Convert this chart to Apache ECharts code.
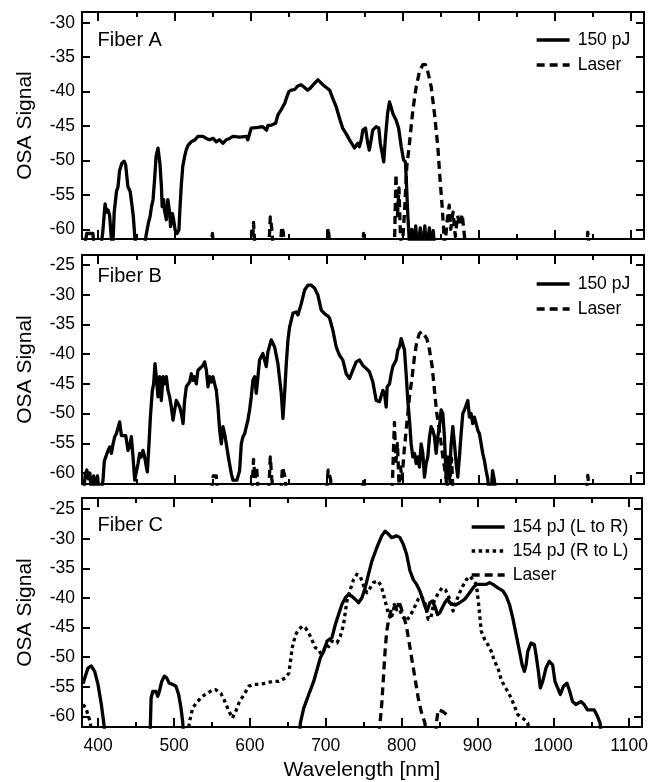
<!DOCTYPE html>
<html><head><meta charset="utf-8">
<script src="https://cdn.jsdelivr.net/npm/echarts@6/dist/echarts.min.js"></script>
<style>html,body{margin:0;padding:0;background:#fff}#c{width:651px;height:782px}</style>
</head><body><div id="c"></div>
<script>
// ---------- tick labels ----------
const xTicks = [400, 500, 600, 700, 800, 900, 1000, 1100];
const xMinorTicks = [450, 550, 650, 750, 850, 950, 1050];
const yTicksA = [-60, -55, -50, -45, -40, -35, -30];
const yTicksB = [-60, -55, -50, -45, -40, -35, -30, -25];
const yTicksC = [-60, -55, -50, -45, -40, -35, -30, -25];
const panelLabels = ['Fiber A', 'Fiber B', 'Fiber C'];
const xTitle = 'Wavelength [nm]';
const yTitle = 'OSA Signal';

// ---------- Fiber A ----------
const fiberA_150pJ = [[381,-63],[385,-60.6],[393,-60.6],[395,-63],[403,-63],[406,-60.4],[409,-56.3],[411,-57.5],[413,-57.2],[415,-58],[417,-61],[419,-63],[421,-57.5],[424,-54.5],[426,-53.8],[428,-51.5],[431,-50.4],[434,-50.1],[436,-50.6],[439,-53.8],[442,-54.5],[444,-56.2],[446,-58],[448,-61],[450,-63],[460,-63],[463,-60.8],[466,-59],[468,-58.2],[470,-56.7],[472,-55.7],[474,-52.8],[476,-49.4],[478.5,-48.2],[481,-50.4],[483,-53.8],[484,-56.7],[486,-55.7],[487,-57.2],[489.5,-58.6],[491.5,-55.7],[494,-57.7],[495,-59.6],[497.5,-57.7],[499,-58.6],[501,-60.1],[503.5,-60.6],[506,-60.1],[507,-57.7],[509,-53.8],[511,-50.9],[513.5,-49.4],[515.5,-48.5],[518,-47.8],[522,-47.3],[527,-47],[531,-46.5],[533,-46.3],[537.5,-46.5],[542,-46.8],[546,-47],[551,-46.8],[555,-47.3],[559,-47],[564,-47.5],[568,-47],[572.5,-46.8],[577,-46.5],[586,-46.6],[594.5,-46.5],[596.5,-47],[599,-46.8],[601,-45.3],[603,-45.1],[610,-45.2],[616,-45.1],[621,-45.6],[623,-44.9],[627,-44.9],[629,-45],[633,-44.6],[636,-43.4],[640,-42.7],[645,-41.7],[648,-40.7],[650.5,-40],[653.5,-39.8],[658,-39.7],[662,-39.2],[666.5,-39],[671,-39.4],[675,-39.8],[678.5,-39.5],[684,-38.8],[688.5,-38.3],[691,-38.1],[695,-39],[699.5,-39.4],[704,-39.8],[708,-41],[712.5,-42.2],[717,-43.9],[721,-45.3],[725.5,-46.1],[730,-47],[734.5,-47.8],[736.5,-48.2],[741,-47.5],[743,-48],[745.5,-47],[747.5,-45.6],[751,-45.3],[754,-47.5],[756,-48.5],[758.5,-47],[760.5,-45.6],[765,-45.1],[768.5,-45.3],[770.5,-47.5],[773,-49],[775,-50.2],[777,-47],[780,-43.2],[782.5,-41.5],[784.5,-42.2],[787,-43.2],[791,-44.1],[794.5,-45.3],[798,-48],[801,-49.9],[803.5,-50.2],[805,-53.8],[806.5,-57.7],[808,-60.6],[809,-63],[812,-60],[814,-63],[817,-59.5],[819,-63],[823,-59.8],[825,-63],[829,-59.5],[831,-63],[835,-59.8],[837,-63],[840,-60.2],[842,-63]];
const fiberA_laser = [[548,-63],[550,-60.6],[552,-63],null,[602,-63],[604,-59],[606,-63],null,[624,-63],[626,-58.2],[628,-60],[630,-63],null,[639,-63],[641,-59.6],[643,-60.4],[645,-63],null,[700,-63],[702,-59.8],[705,-63],null,[747,-63],[748.5,-60.6],[750,-63],null,[789,-63],[791,-52],[793,-58],[795,-54],[797,-61],[799,-63],[802,-58],[805.3,-50.9],[808.8,-47.5],[813.2,-42.7],[817.6,-39.3],[821.9,-37.1],[826.3,-36.1],[829.8,-36.1],[832.8,-37.1],[837.3,-39.3],[841.6,-43.2],[846,-48],[849,-52.8],[851.7,-56.7],[853.4,-59.6],[855,-63],[858,-59],[861,-56.5],[863,-60],[866,-57.5],[869,-61],[872,-58],[875,-59.5],[878,-57.8],[881,-61],[883,-63],null,[1041,-63],[1043,-60.4],[1045,-63]];

// ---------- Fiber B ----------
const fiberB_150pJ = [[381,-63],[383,-60.2],[385,-59.5],[387,-61],[389,-60],[391,-63],[394,-60.5],[396,-63],[399,-60.5],[401,-63],[404,-63],[406.3,-61.2],[408,-58],[409.8,-57.9],[412.9,-56.2],[415.1,-55.6],[417.3,-56.7],[419.5,-55.1],[421.7,-53.9],[423.8,-53.4],[426,-53.7],[428.2,-51.4],[430.4,-53.7],[432.6,-53.9],[436.1,-53.7],[439.2,-56.2],[441.3,-55.6],[443.5,-53.9],[445.7,-57.3],[447.9,-61.2],[450.1,-61.2],[452.3,-58.4],[454.5,-56.7],[456.6,-57.3],[458.8,-56.2],[461,-57.3],[463.2,-59],[464.5,-59.8],[466.7,-55.1],[468.5,-50.6],[471.1,-46.1],[472.8,-45],[474.6,-41.6],[476.3,-43.8],[478.5,-47.2],[480.7,-43.8],[482.9,-47.8],[485.1,-43.8],[487.3,-45],[489.5,-43.8],[491.6,-46.1],[493.8,-47.2],[496,-48.9],[498.2,-51.1],[500.4,-49.4],[502.6,-47.8],[504.8,-48.3],[507,-48.9],[509.2,-50],[511.4,-51.7],[513.5,-47.8],[515.7,-45.5],[520.1,-44.7],[522.3,-43.3],[524.5,-44.4],[526.6,-43.8],[528.8,-45],[531,-42.7],[533.2,-42.4],[537.6,-41.9],[539.8,-41.3],[542,-42.7],[544.2,-45.5],[546.3,-43.8],[548.5,-44.7],[550.7,-43.8],[552.9,-45],[555.1,-46.1],[557.3,-48.9],[559.5,-52.8],[561.7,-55.1],[563.8,-52.2],[566,-53.4],[568.2,-55.1],[571.7,-57.9],[574.8,-60.1],[576.9,-61.2],[582.2,-61.2],[585.7,-59.6],[587.9,-55.1],[590.1,-53.9],[592.3,-53.4],[594.5,-52.2],[596.6,-51.1],[598.8,-49.4],[601,-47.2],[603.2,-44.4],[605.4,-43.8],[607.6,-46.6],[609.8,-43.8],[611.9,-41],[616.3,-39.9],[620.7,-42.1],[622.9,-39.6],[627.3,-37.6],[631.7,-38.8],[636,-41.6],[640.4,-46.6],[642.6,-50.8],[644.8,-46.6],[647,-41.6],[649.2,-37.6],[651.4,-35.4],[655.8,-33.1],[660.1,-32.9],[662.3,-33.4],[666.7,-31.5],[671.1,-29.2],[675.4,-28.4],[679.8,-28.4],[684.2,-28.9],[688.6,-30.1],[692.9,-32.6],[697.3,-33.2],[701.7,-33.6],[704,-34],[708.2,-36],[712.6,-38.8],[716.9,-40.2],[721.3,-41],[725.7,-43.3],[730.1,-44.1],[734.4,-42.7],[738.8,-41.3],[743.2,-41],[747.6,-41.9],[751.9,-42.4],[756.3,-43],[760.7,-44.7],[765.1,-47.8],[769.4,-48],[773.8,-46.1],[776,-46.6],[778.2,-48.9],[779.5,-45.5],[782.6,-45],[784.8,-43.3],[786.9,-42.1],[791.3,-41],[793.5,-39.3],[795.7,-38.8],[797.9,-37.4],[800.1,-37.4],[802.2,-39.3],[804.4,-43.3],[806.6,-47.8],[808.8,-51.1],[811,-55.1],[813.2,-57.3],[815.4,-56.7],[817.6,-58.4],[819.8,-57.3],[821.9,-59],[824.1,-55.1],[826.3,-56.7],[828.5,-60.7],[830.7,-58.4],[832.9,-57.3],[835.1,-53.9],[837.2,-52.2],[839.4,-52.8],[841.6,-53.9],[843.8,-56.7],[846,-53.9],[848.2,-52.2],[850.4,-49.4],[852.6,-50],[854.7,-53.9],[856.9,-60.7],[859.1,-57.3],[861.3,-60.7],[863.5,-55.1],[865.7,-52.2],[867.9,-55.1],[870.1,-58.4],[872.2,-60.7],[874.4,-57.3],[876.6,-53.4],[878.8,-50],[881,-49.4],[883.2,-49.7],[885.4,-47.8],[887.5,-50.6],[889.7,-50],[891.9,-51.7],[894.1,-50.6],[896.3,-50.6],[898.5,-52.8],[900.7,-53.4],[902.9,-55.1],[905,-56.7],[907.2,-57.9],[909.4,-59.6],[911.6,-61],[913,-63],[916,-63],[918,-59.6],[920,-61],[922,-63]];
const fiberB_laser = [[549,-63],[551,-60.5],[555,-60.5],[557,-63],null,[602,-63],[604,-57.7],[606,-61],[608,-59],[610,-63],null,[624,-63],[626,-57.3],[628,-61],[630,-63],null,[640,-63],[642,-59],[645,-60.5],[647,-63],null,[700,-63],[702,-59.5],[705,-61],[707,-63],null,[747,-63],[748.5,-61],[750,-63],null,[786,-63],[789,-51.5],[791,-58],[793,-55],[795,-62],[797,-59],[799,-61],[802,-56],[805.3,-51.7],[808.8,-47.2],[812.3,-43.8],[815.4,-40.4],[818.4,-37.9],[821.9,-36.5],[825.4,-36.2],[828.5,-36.8],[831.6,-37.4],[835.1,-39.3],[838.6,-42.1],[841.6,-46.1],[844.7,-50],[847.3,-52.2],[850.4,-55.1],[852.6,-57.3],[854.7,-59],[856.9,-61],[858,-63],[860,-58.5],[862,-61.5],[864,-57.5],[866,-63],null,[1041,-63],[1043,-60.4],[1045,-63]];

// ---------- Fiber C ----------
const fiberC_LtoR = [[380,-54.5],[383.6,-53],[386.7,-51.8],[391,-51.5],[395.4,-52.4],[399.8,-54.6],[404.2,-58],[407.2,-60.9],[409,-63],null,[468.5,-63],[468.9,-61.1],[469.8,-56.9],[472,-55.8],[476.3,-55.8],[478.5,-56.6],[480.7,-55.8],[483.8,-54.1],[487.3,-53.2],[490.3,-53.5],[493.8,-54.4],[498.2,-54.6],[502.6,-54.9],[506.1,-56.3],[509.2,-58.6],[511.4,-60.9],[512.5,-63],null,[665.5,-63],[666.6,-61.1],[671,-58.6],[677.6,-56.3],[684.1,-54.1],[688.5,-52.1],[692.9,-50.1],[697.3,-49],[701.7,-47.3],[703.8,-47.5],[708.2,-46.7],[712.6,-44.5],[716.9,-42.8],[721.3,-41.1],[725.7,-40],[730.1,-39.4],[734.4,-39.7],[738.8,-40.2],[743.2,-40.8],[747.6,-40],[751.9,-38.3],[756.3,-36],[760.7,-33.8],[767.3,-31.5],[773.8,-29.5],[778.2,-28.7],[782.6,-29.2],[786.9,-29.8],[793.5,-29.5],[797.9,-29.8],[802.2,-30.9],[806.6,-32.6],[811,-35.4],[815.4,-36.9],[819.8,-37.7],[824.1,-38.8],[828.5,-40.5],[831.6,-41.7],[833.7,-42.2],[837.2,-40.8],[840.3,-40.5],[843.8,-41.4],[847.3,-42.8],[850.4,-42.5],[853.4,-41.7],[856.9,-40.8],[860.4,-40.2],[863.5,-40.8],[867.9,-41.1],[872.2,-41.1],[876.6,-40.8],[883.2,-40.2],[889.7,-39.1],[894.1,-38.3],[898.5,-37.7],[902.9,-37.7],[907.2,-37.7],[911.6,-37.7],[916,-37.4],[920.4,-37.7],[926.9,-38.3],[933.5,-38.8],[937.9,-39.7],[942.2,-41.1],[946.6,-43.4],[951,-46.2],[955.4,-49],[958.9,-51.3],[961.9,-52.4],[964.1,-51.3],[966.3,-49],[970.7,-47.6],[975,-47.9],[977.2,-49.6],[980.3,-52.4],[982.9,-55.2],[986,-54.1],[990.4,-51.8],[994.7,-50.7],[999.1,-51.3],[1002.2,-54.1],[1005.7,-55.2],[1009.2,-56.3],[1013.5,-54.9],[1017.9,-54.4],[1021,-55.5],[1025.3,-57.5],[1029.7,-58],[1036.3,-57.5],[1040.7,-58],[1045,-58.9],[1053.8,-58.9],[1058.2,-60],[1061.6,-61.1],[1063,-63]];
const fiberC_RtoL = [[380,-58],[383.6,-58.5],[386.7,-59.8],[389.7,-61],[391,-63],null,[518.5,-63],[520.1,-61.1],[524.5,-58.6],[531,-57.5],[537.6,-56.6],[544.2,-56.1],[550.7,-55.5],[555.1,-55.5],[561.7,-56.1],[566,-57.2],[572.6,-59.2],[576.9,-60.3],[581.3,-59.2],[585.7,-57.7],[592.3,-56.3],[598.8,-54.9],[605.4,-54.6],[611.9,-54.6],[620.7,-54.4],[629.4,-54.1],[638.2,-54.1],[646.9,-53.5],[651.4,-52.7],[653.5,-50.7],[655.8,-48.4],[660.1,-46.2],[664.5,-45.3],[668.9,-44.8],[673.2,-45],[679.8,-46.5],[686.3,-48.4],[690.7,-48.7],[692.9,-49.3],[697.3,-49],[699.5,-47.9],[703.9,-48.2],[708.2,-47.3],[714.8,-47.6],[719.1,-46.5],[723.5,-44.5],[727.9,-40.5],[732.3,-38.6],[736.6,-36.9],[741,-36],[745.4,-36.3],[749.8,-37.9],[754.1,-39.1],[758.5,-38.3],[762.9,-37.4],[768.6,-37.1],[773,-37.9],[777.3,-40],[781.7,-42.2],[786.1,-43.6],[790.4,-41.4],[794.8,-41.1],[800.1,-42.8],[805.3,-43.9],[811,-43.1],[817.6,-41.4],[821.9,-40.2],[826.3,-39.7],[830.7,-40.8],[835.1,-43.6],[838.6,-43.3],[843,-40.5],[848.2,-39.2],[853.4,-38.3],[857.8,-38.6],[863.5,-40.2],[867.9,-42.2],[872.2,-40.5],[876.6,-39.1],[881,-37.9],[885.4,-36.9],[889.7,-36.3],[894.1,-36.9],[898.5,-37.7],[901.6,-41.1],[905,-45.6],[909.4,-47],[913.8,-47.9],[918.2,-49],[922.5,-50.7],[926.9,-51.8],[931.3,-53.8],[935.7,-54.9],[940,-55.8],[944.4,-56.9],[948.8,-58.3],[953.2,-59.7],[959.7,-60.3],[966.3,-61.1],[968,-63]];
const fiberC_laser = [[770,-63],[771.6,-61.1],[773.8,-58],[776,-53.5],[778.2,-49],[780.4,-45.6],[783.4,-43.4],[786.9,-41.7],[790.4,-41.1],[793.5,-42],[795.7,-41.7],[797.9,-41.1],[800.1,-42],[803.6,-43.4],[806.6,-45],[809.7,-47.3],[813.2,-50.1],[817.6,-53.5],[821.9,-56.9],[826.3,-59.4],[830.7,-61.1],[832,-63],null,[845,-63],[846,-61],[848.2,-58.9],[854.7,-59.2],[859.1,-59.7]];

// ---------- layout / style ----------
const FONT = "'Liberation Sans', Arial, Helvetica, sans-serif";
const XMIN = 378.7, XMAX = 1116.8;
const LEFT = 82, RIGHT = 7;
const LINE_W = 3.3;
const DASH = [8, 5], DOT = [3.5, 3.5];
const panels = [
  {top: 12,  height: 227, ymin: -61.4, ymax: -28.45, yticks: yTicksA, labelY: 41.7,
   legend: {left: 535, top: 31, gap: 7},
   series: [{name: '150 pJ', data: fiberA_150pJ, dash: 'solid'}, {name: 'Laser', data: fiberA_laser, dash: DASH}]},
  {top: 255, height: 229, ymin: -61.85, ymax: -23.32, yticks: yTicksB, labelY: 277,
   legend: {left: 535, top: 275, gap: 7},
   series: [{name: '150 pJ', data: fiberB_150pJ, dash: 'solid'}, {name: 'Laser', data: fiberB_laser, dash: DASH}]},
  {top: 498, height: 229, ymin: -61.8, ymax: -23.1, yticks: yTicksC, labelY: 526.7,
   legend: {left: 470, top: 518, gap: 6},
   series: [{name: '154 pJ (L to R)', data: fiberC_LtoR, dash: 'solid'}, {name: '154 pJ (R to L)', data: fiberC_RtoL, dash: DOT}, {name: 'Laser', data: fiberC_laser, dash: DASH}]}
];

const toData = arr => arr.map(p => p === null ? ['-', '-'] : p);
const black = '#000';
const grid = [], xAxis = [], yAxis = [], series = [], legend = [], graphic = [];

panels.forEach((p, i) => {
  grid.push({left: LEFT, right: RIGHT, top: p.top, height: p.height, containLabel: false});
  const xBase = {gridIndex: i, type: 'value', min: XMIN, max: XMAX, splitLine: {show: false}};
  const tickStyle = {color: black, width: 2};
  xAxis.push(Object.assign({}, xBase, {
    position: 'bottom',
    axisLine: {show: true, onZero: false, lineStyle: {color: black, width: 2}},
    axisTick: {show: true, inside: true, length: 9, customValues: xTicks, lineStyle: tickStyle},
    axisLabel: {show: i === 2, customValues: xTicks, formatter: v => String(v), color: black, fontSize: 17.5, fontFamily: FONT, margin: 10},
    name: i === 2 ? xTitle : '', nameLocation: 'middle', nameGap: 33,
    nameTextStyle: {color: black, fontSize: 21, fontFamily: FONT}
  }));
  xAxis.push(Object.assign({}, xBase, {
    position: 'bottom', axisLine: {show: false, onZero: false},
    axisTick: {show: true, inside: true, length: 5, customValues: xMinorTicks, lineStyle: tickStyle},
    axisLabel: {show: false}
  }));
  xAxis.push(Object.assign({}, xBase, {
    position: 'top',
    axisLine: {show: true, onZero: false, lineStyle: {color: black, width: 2}},
    axisTick: {show: true, inside: true, length: 9, customValues: xTicks, lineStyle: tickStyle},
    axisLabel: {show: false}
  }));
  xAxis.push(Object.assign({}, xBase, {
    position: 'top', axisLine: {show: false, onZero: false},
    axisTick: {show: true, inside: true, length: 5, customValues: xMinorTicks, lineStyle: tickStyle},
    axisLabel: {show: false}
  }));
  const yBase = {gridIndex: i, type: 'value', min: p.ymin, max: p.ymax, splitLine: {show: false}};
  yAxis.push(Object.assign({}, yBase, {
    position: 'left',
    axisLine: {show: true, onZero: false, lineStyle: {color: black, width: 2}},
    axisTick: {show: true, inside: true, length: 8, customValues: p.yticks, lineStyle: tickStyle},
    axisLabel: {show: true, customValues: p.yticks, formatter: v => String(v), color: black, fontSize: 17.5, fontFamily: FONT, margin: 7},
    name: yTitle, nameLocation: 'middle', nameGap: 46,
    nameTextStyle: {color: black, fontSize: 21, fontFamily: FONT}
  }));
  yAxis.push(Object.assign({}, yBase, {
    position: 'right',
    axisLine: {show: true, onZero: false, lineStyle: {color: black, width: 2}},
    axisTick: {show: true, inside: true, length: 8, customValues: p.yticks, lineStyle: tickStyle},
    axisLabel: {show: false}
  }));
  p.series.forEach(s => {
    series.push({
      type: 'line', name: s.name, xAxisIndex: 4 * i, yAxisIndex: 2 * i,
      data: toData(s.data), symbol: 'none', showSymbol: false, connectNulls: false,
      clip: true, animation: false,
      lineStyle: {color: black, width: LINE_W, type: s.dash, cap: 'butt', join: 'round'},
      itemStyle: {color: black}
    });
  });
  legend.push({
    orient: 'vertical', left: p.legend.left, top: p.legend.top, padding: 0,
    itemWidth: 33, itemHeight: 14, itemGap: p.legend.gap,
    data: p.series.map(s => s.name),
    itemStyle: {opacity: 0, color: 'transparent', borderWidth: 0},
    lineStyle: {width: LINE_W},
    textStyle: {color: black, fontSize: 17.5, fontFamily: FONT, padding: [0, 0, 0, 3]},
    selectedMode: false
  });
  graphic.push({
    type: 'text', left: 97.5, top: p.labelY - 11,
    style: {text: panelLabels[i], fill: black, fontSize: 20, fontFamily: FONT}
  });
});

const chart = echarts.init(document.getElementById('c'), null, {renderer: 'canvas'});
chart.setOption({
  backgroundColor: '#fff', animation: false,
  grid, xAxis, yAxis, series, legend, graphic
});
</script>
</body></html>
